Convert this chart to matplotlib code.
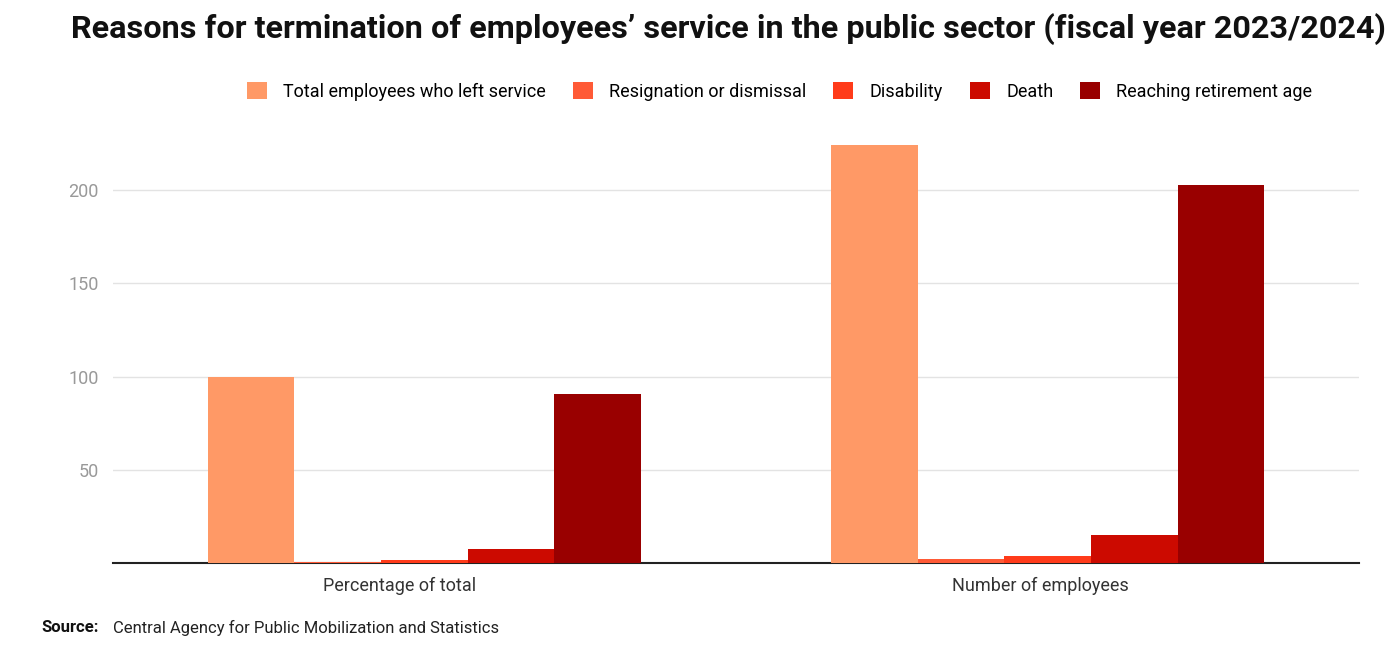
import numpy as np
import matplotlib.pyplot as plt

plt.rcParams['font.family'] = ['Roboto', 'DejaVu Sans']

groups = ["Percentage of total", "Number of employees"]
series = ["Total employees who left service", "Resignation or dismissal",
          "Disability", "Death", "Reaching retirement age"]
values = [
    [100, 224],   # total
    [0.5, 2],     # resignation
    [1.5, 4],     # disability
    [7.5, 15],    # death
    [90.5, 203],  # retirement
]
colors = ["#FF9966", "#FF5A36", "#FF3B1A", "#CC0A00", "#990000"]

fig = plt.figure(figsize=(13.9, 6.52), dpi=100)
ax = fig.add_axes([0.081, 0.1365, 0.897, 0.6575])

x = np.arange(len(groups))
w = 0.139
for i, (name, vals) in enumerate(zip(series, values)):
    ax.bar(x + (i - 2) * w, vals, w, color=colors[i], label=name, zorder=3)

ax.set_xlim(-0.5, 1.5)
ax.set_ylim(0, 230)
ax.set_yticks([50, 100, 150, 200])
ax.set_xticks([x[0] - 0.04, x[1] - 0.012])
ax.set_xticklabels(groups, fontsize=13, color="#333333")
ax.tick_params(axis='y', length=0, labelsize=13, labelcolor="#999999", pad=10)
ax.tick_params(axis='x', length=0, pad=10)
ax.grid(axis='y', color="#E3E3E3", linewidth=1, zorder=0)
for s in ["top", "right", "left"]:
    ax.spines[s].set_visible(False)
ax.spines["bottom"].set_color("#222222")
ax.spines["bottom"].set_linewidth(1.5)

fig.text(0.524, 0.955, "Reasons for termination of employees\u2019 service in the public sector (fiscal year 2023/2024)",
         ha='center', va='center', fontsize=23.3, fontweight='bold', color="#111111")
fig.legend(loc='center', bbox_to_anchor=(0.561, 0.86), ncol=5, frameon=False,
           fontsize=13, handlelength=1.1, handleheight=1.1, columnspacing=1.5, handletextpad=0.9)
fig.text(0.03, 0.037, "Source:", fontsize=12, fontweight='bold', color="#111111", va='center')
fig.text(0.081, 0.037, "Central Agency for Public Mobilization and Statistics",
         fontsize=12, color="#222222", va='center')

plt.savefig("out.png")
